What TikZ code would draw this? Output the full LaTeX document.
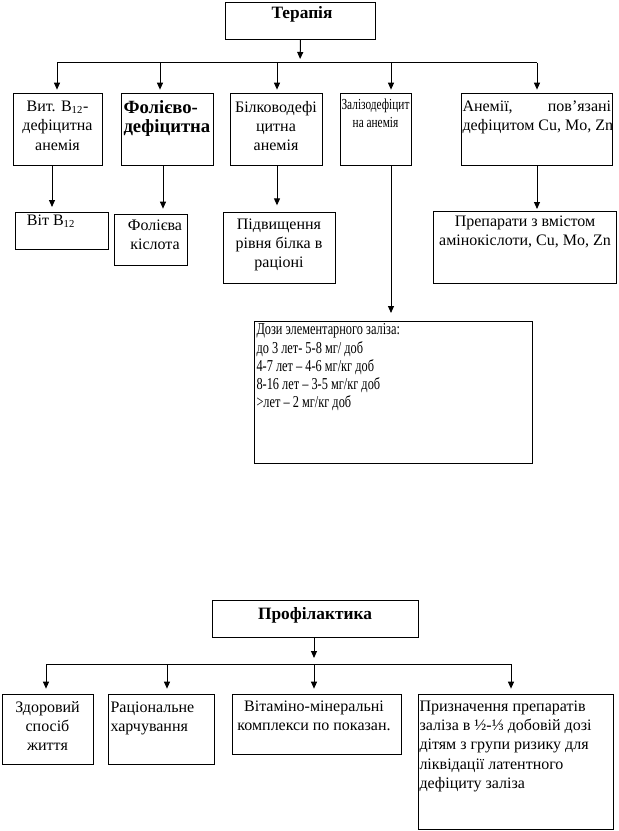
\documentclass[tikz,border=0pt]{standalone}
\usepackage{fontspec}
\setmainfont{Liberation Serif}
\newfontfamily\mynarrowfam[FakeStretch=0.74]{Liberation Serif}
\usetikzlibrary{arrows.meta}
\newcommand\myreg{\fontsize{12}{14.5}\selectfont}
\newcommand\mynarrow{\mynarrowfam\fontsize{12.5}{13.7}\selectfont}
\newcommand\mynarrowsm{\mynarrowfam\fontsize{11.5}{13.7}\selectfont}
\newcommand\mytitle{\bfseries\fontsize{13}{15}\selectfont}
\newcommand\mybig{\bfseries\fontsize{14}{14}\selectfont}
\newcommand\mkbox[5]{\node[boxnode, minimum width={(#4-#2)*0.75pt}, minimum height={(#5-#3)*0.75pt}] (#1) at (#2,#3) {};}
\begin{document}
\begin{tikzpicture}[x=0.75pt, y=-0.75pt, line width=0.75pt,
  boxnode/.style={draw, inner sep=0pt, anchor=north west},
  arr/.style={-{Triangle[width=4.5pt,length=5.25pt]}},
  txt/.style={inner sep=0pt, anchor=north, align=center, font=\myreg},
  txtl/.style={inner sep=0pt, anchor=north west, align=left, font=\myreg},
  ttl/.style={inner sep=0pt, anchor=base, font=\mytitle}]
\useasboundingbox (0,0) rectangle (618,831);

% ---------- Therapy ----------
\mkbox{ter}{225}{2}{375}{39}
\mkbox{b1}{13}{93}{102}{165}
\mkbox{b2}{121}{93}{213}{165}
\mkbox{b3}{230}{93}{322}{165}
\mkbox{b4}{340}{93}{411}{165}
\mkbox{b5}{461}{93}{612}{165}
\mkbox{c1}{15}{212}{108}{249}
\mkbox{c2}{114}{214}{187}{265}
\mkbox{c3}{223}{212}{335}{283}
\mkbox{c5}{433}{211}{616}{283}
\mkbox{dose}{254}{321}{532}{463}

\node[ttl] (tt) at (302,19) {Терапія};

\node[txt] (tb1) at (57.5,97.5) {\strut Вит. B\textsubscript{12}-\\дефіцитна\\анемія};
\node[txtl, font=\mybig] (tb2) at (123,100) {\strut Фолієво-\\дефіцитна};
\node[txt] (tb3) at (276,98) {\strut Білководефі\\цитна\\анемія};
\node[txt, font=\mynarrowsm] (tb4) at (375.5,96) {\strut Залізодефіцит\\на анемія};
\node[txtl] (tb5) at (462,97) {\strut\makebox[111.5pt][s]{Анемії, пов’язані}\\дефіцитом Cu, Mo, Zn};

\node[inner sep=0pt, anchor=base, font=\myreg] (tc1) at (51,225.5) {Віт B\textsubscript{12}};
\node[txt] (tc2) at (155,216) {\strut Фолієва\\кіслота};
\node[txt] (tc3) at (279,215) {\strut Підвищення\\рівня білка в\\раціоні};
\node[txt] (tc5) at (525,212) {\strut Препарати з вмістом\\амінокіслоти, Cu, Mo, Zn};
\node[txtl, font=\mynarrow] (tdose) at (256,321.5) {\strut Дози элементарного заліза:\\до 3 лет- 5-8 мг/ доб\\4-7 лет – 4-6 мг/кг доб\\8-16 лет – 3-5 мг/кг доб\\>лет – 2 мг/кг доб};

\coordinate (tbus) at (300,63);
\coordinate (d1) at (57,63);
\coordinate (d2) at (160,63);
\coordinate (d3) at (277,63);
\coordinate (d4) at (391,63);
\coordinate (d5) at (537,63);
\draw (d1) -- (d5);
\draw[arr, shorten >=3pt] (ter.south) -- (tbus);
\draw[arr, shorten >=2.5pt] (d1) -- (d1 |- b1.north);
\draw[arr, shorten >=2.5pt] (d2) -- (d2 |- b2.north);
\draw[arr, shorten >=2.5pt] (d3) -- (d3 |- b3.north);
\draw[arr, shorten >=2.5pt] (d4) -- (d4 |- b4.north);
\draw[arr, shorten >=2.5pt] (d5) -- (d5 |- b5.north);

\draw[arr, shorten >=3.75pt] (52,0 |- b1.south) -- (52,0 |- c1.north);
\draw[arr, shorten >=4pt] (163,0 |- b2.south) -- (163,0 |- c2.north);
\draw[arr, shorten >=5pt] (277,0 |- b3.south) -- (277,0 |- c3.north);
\draw[arr, shorten >=1.5pt] (537,0 |- b5.south) -- (537,0 |- c5.north);
\draw[arr, shorten >=6pt] (391,0 |- b4.south) -- (391,0 |- dose.north);

% ---------- Prophylaxis ----------
\mkbox{prof}{212}{600}{418}{637}
\mkbox{p1}{2}{694}{93}{764}
\mkbox{p2}{108}{694}{214}{764}
\mkbox{p3}{232}{694}{401}{754}
\mkbox{p4}{418}{694}{613}{829}

\node[ttl] (pt) at (315,619) {Профілактика};

\node[txt] (tp1) at (47.5,698) {\strut Здоровий\\спосіб\\життя};
\node[txtl] (tp2) at (110,698) {\strut Раціональне\\харчування};
\node[txt] (tp3) at (314,697) {\strut Вітаміно-мінеральні\\комплекси по показан.};
\node[txtl] (tp4) at (419,697) {\strut Призначення препаратів\\заліза в ½-⅓ добовій дозі\\дітям з групи ризику для\\ліквідації латентного\\дефіциту заліза};

\coordinate (pbus) at (314,664);
\coordinate (e1) at (46,664);
\coordinate (e2) at (167,664);
\coordinate (e3) at (314,664);
\coordinate (e4) at (511,664);
\draw (e1) -- (e4);
\draw[arr, shorten >=4.5pt] (314,0 |- prof.south) -- (pbus);
\draw[arr, shorten >=4pt] (e1) -- (e1 |- p1.north);
\draw[arr, shorten >=4pt] (e2) -- (e2 |- p2.north);
\draw[arr, shorten >=4pt] (e3) -- (e3 |- p3.north);
\draw[arr, shorten >=4pt] (e4) -- (e4 |- p4.north);
\end{tikzpicture}
\end{document}
